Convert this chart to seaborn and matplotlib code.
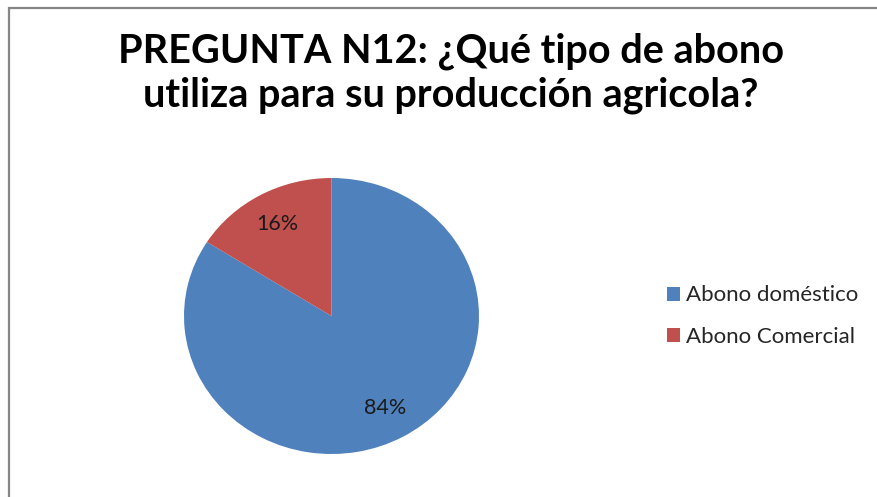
import numpy as np
import seaborn as sns
import matplotlib.pyplot as plt
from matplotlib.patches import Rectangle

# data
labels = ['Abono doméstico', 'Abono Comercial']
shares = [84, 16]
colors = ['#4F81BD', '#C0504D']
title = 'PREGUNTA N12: ¿Qué tipo de abono\nutiliza para su producción agricola?'

sns.set_theme(style='white')
plt.rcParams['font.family'] = ['Lato', 'DejaVu Sans']

W, H = 878, 497
fig = plt.figure(figsize=(W / 100, H / 100), dpi=100)

# chart frame (right and bottom edges fall outside the crop)
fig.patches.append(Rectangle((9.5 / W, -0.1), 1.2, (H - 7.5) / H + 0.1,
                             transform=fig.transFigure, fill=False,
                             edgecolor='#868686', linewidth=1.6))

fig.text(451 / W, 1 - 73 / H, title, ha='center', va='center',
         fontsize=28.5, fontweight='bold', linespacing=1.2, color='black')

# pie is slightly stretched in the source, so no equal aspect
ax = fig.add_axes([184 / W, 43 / H, 295 / W, 276 / H])
wedges, texts, autotexts = ax.pie(
    shares, colors=colors, startangle=90, counterclock=False,
    autopct='%d%%', pctdistance=0.76,
    textprops=dict(fontsize=15.5, color='#1a1a1a'),
    wedgeprops=dict(linewidth=0))
ax.set_aspect('auto')
ax.set_xlim(-1, 1)
ax.set_ylim(-1, 1)
ax.axis('off')

fig.legend(wedges, labels, loc='center left',
           bbox_to_anchor=(658 / W, 1 - 316 / H), frameon=False,
           fontsize=16, handlelength=0.6, handleheight=0.6,
           handletextpad=0.25, labelspacing=0.95, borderaxespad=0)

fig.savefig('out.png', dpi=100)
